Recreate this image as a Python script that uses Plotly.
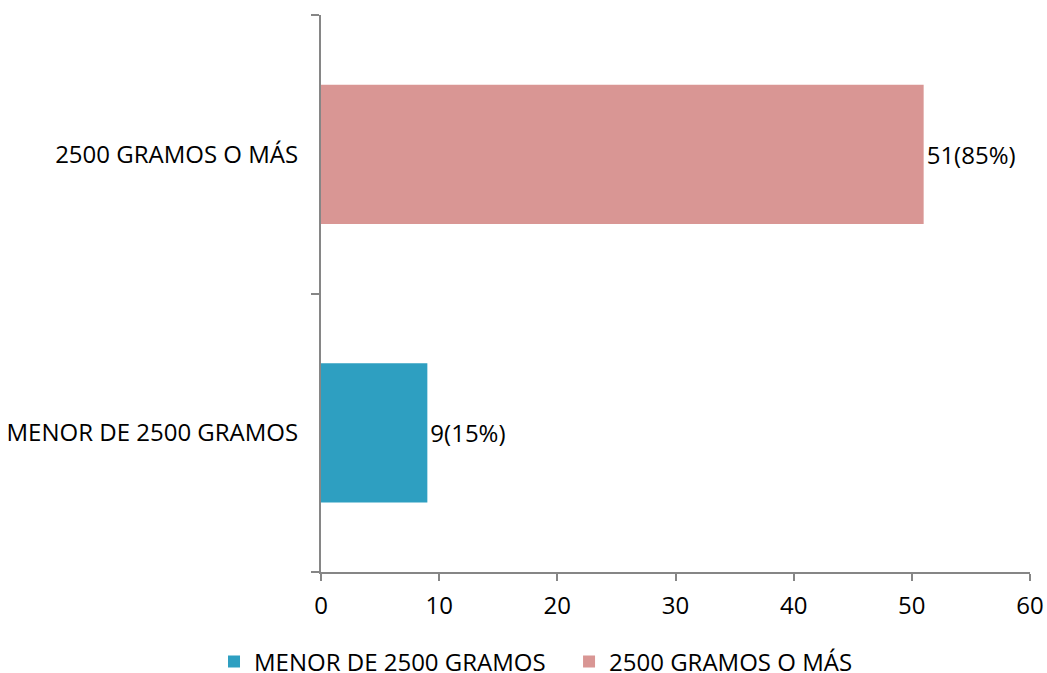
import plotly.graph_objects as go

categories = ["MENOR DE 2500 GRAMOS", "2500 GRAMOS O MÁS"]
values = [9, 51]
labels = ["9(15%)", "51(85%)"]
colors = ["#2e9fc1", "#d99694"]
legend_ids = ["legend", "legend2"]

FONT = "Open Sans"
FS = 24

fig = go.Figure()
for cat, val, lab, col, lg in zip(categories, values, labels, colors, legend_ids):
    fig.add_trace(go.Bar(
        y=[cat], x=[val], orientation="h", name=cat, legend=lg,
        marker=dict(color=col, line=dict(width=0)),
        text=[lab], textposition="outside", cliponaxis=False,
        textfont=dict(family=FONT, size=FS, color="#000000"),
        width=0.5,
    ))

legend_common = dict(orientation="h", xref="container", xanchor="left",
                     yref="container", y=0.0165, yanchor="middle",
                     font=dict(family=FONT, size=FS), bgcolor="rgba(0,0,0,0)")

fig.update_layout(
    width=1047, height=673,
    margin=dict(l=321, r=17, t=15, b=101, autoexpand=False),
    paper_bgcolor="white", plot_bgcolor="white",
    barmode="overlay",
    font=dict(family=FONT, size=FS, color="#000000"),
    showlegend=True,
    legend=dict(x=0.2044, **legend_common),
    legend2=dict(x=0.5435, **legend_common),
    xaxis=dict(range=[0, 60], dtick=10, tick0=0, showgrid=False, zeroline=False,
               showline=True, linecolor="#868686", linewidth=2,
               ticks="outside", ticklen=7, tickcolor="#868686", tickwidth=2,
               ticklabelstandoff=4,
               tickfont=dict(family=FONT, size=FS)),
    yaxis=dict(categoryorder="array", categoryarray=categories, range=[-0.5, 1.5],
               showgrid=False, zeroline=False, showline=True, linecolor="#868686",
               linewidth=2, ticks="outside", ticklen=8, tickcolor="#868686",
               tickwidth=2, tickson="boundaries", ticklabelstandoff=16,
               tickfont=dict(family=FONT, size=FS)),
)

fig.write_html("out.html", config=dict(displayModeBar=False),
               post_script="document.body.style.margin='0';document.body.style.overflow='hidden';")
